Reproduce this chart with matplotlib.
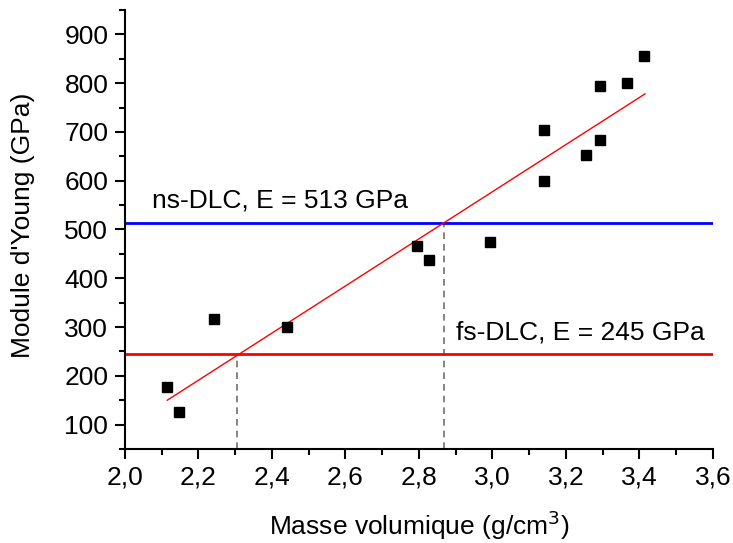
import matplotlib
matplotlib.use("Agg")
import matplotlib.pyplot as plt
from matplotlib.ticker import MultipleLocator, FuncFormatter

plt.rcParams['font.family'] = ['Liberation Sans', 'DejaVu Sans']

# Data
density = [2.113, 2.147, 2.241, 2.442, 2.795, 2.826, 2.994, 3.141, 3.141, 3.255, 3.293, 3.293, 3.365, 3.413]
modulus = [177, 125, 316, 300, 466, 437, 474, 599, 704, 652, 684, 794, 801, 855]
fit_x = [2.115, 3.415]
fit_y = [150, 778]
ns_E = 513
fs_E = 245
ns_rho = 2.868
fs_rho = 2.305
ns_label = "ns-DLC, E = 513 GPa"
fs_label = "fs-DLC, E = 245 GPa"

FS = 19

fig = plt.figure(figsize=(7.33, 5.43), dpi=100)
ax = fig.add_axes([0.1705, 0.1731, 0.8022, 0.8085])

ax.set_xlim(2.0, 3.6)
ax.set_ylim(50, 950)

ax.axhline(ns_E, color='#0000ff', lw=2.0, zorder=2)
ax.axhline(fs_E, color='#ff0000', lw=2.0, zorder=2)
ax.plot([fs_rho, fs_rho], [50, fs_E], color='#707070', lw=1.2, ls=(0, (4, 3)), zorder=1)
ax.plot([ns_rho, ns_rho], [50, ns_E], color='#707070', lw=1.2, ls=(0, (4, 3)), zorder=1)
ax.plot(fit_x, fit_y, color='#ff0000', lw=1.0, zorder=3)
ax.plot(density, modulus, ls='none', marker='s', ms=7, color='black', zorder=4)

ax.text(2.073, 560, ns_label, fontsize=FS, va='center', ha='left')
ax.text(2.902, 288, fs_label, fontsize=FS, va='center', ha='left')

for s in ['top', 'right']:
    ax.spines[s].set_visible(False)
for s in ['left', 'bottom']:
    ax.spines[s].set_linewidth(1.5)

ax.xaxis.set_major_locator(MultipleLocator(0.2))
ax.xaxis.set_minor_locator(MultipleLocator(0.1))
ax.yaxis.set_major_locator(MultipleLocator(100))
ax.yaxis.set_minor_locator(MultipleLocator(50))
ax.xaxis.set_major_formatter(FuncFormatter(lambda v, p: f"{v:.1f}".replace('.', ',')))
ax.tick_params(which='major', direction='out', length=7, width=1.5, labelsize=FS, pad=5)
ax.tick_params(which='minor', direction='out', length=4, width=1.5)
ax.set_yticks([100, 200, 300, 400, 500, 600, 700, 800, 900])

ax.set_xlabel("Masse volumique (g/cm$^3$)", fontsize=FS)
ax.xaxis.set_label_coords(0.5, -0.135)
ax.set_ylabel("Module d'Young (GPa)", fontsize=FS)
ax.yaxis.set_label_coords(-0.153, 0.51)

fig.savefig("out.png", dpi=100)
